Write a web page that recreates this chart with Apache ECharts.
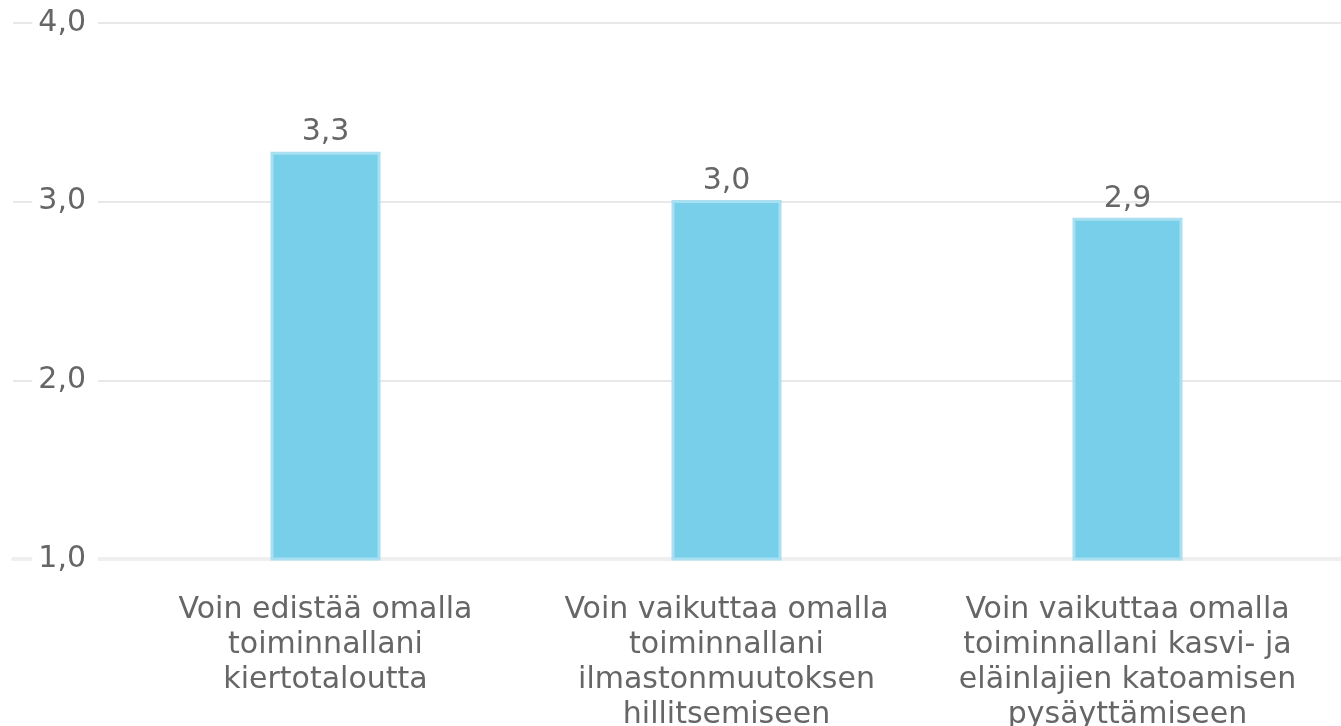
<!DOCTYPE html>
<html>
<head>
<meta charset="utf-8">
<script src="https://cdn.jsdelivr.net/npm/echarts@6/dist/echarts.min.js"></script>
<style>
    html, body { margin: 0; padding: 0; background: #fff; }
    #main { width: 1341px; height: 726px; }
</style>
</head>
<body>
<div id="main"></div>
<script>
var categories = [
    'Voin edistää omalla\ntoiminnallani\nkiertotaloutta',
    'Voin vaikuttaa omalla\ntoiminnallani\nilmastonmuutoksen\nhillitsemiseen',
    'Voin vaikuttaa omalla\ntoiminnallani kasvi- ja\neläinlajien katoamisen\npysäyttämiseen'
];
var values = [3.28, 3.01, 2.91];
var yMin = 1;
var yMax = 4;
var yStep = 1;

var fmt = function (v) {
    return v.toFixed(1).replace('.', ',');
};

var font = 'DejaVu Sans';

var option = {
    animation: false,
    grid: [
        // full width grid, only for the grid lines
        { left: 13, right: 0, top: 23, bottom: 167, outerBoundsMode: 'none' },
        // bars
        { left: 125, right: 13, top: 23, bottom: 167, outerBoundsMode: 'none' }
    ],
    xAxis: [
        {
            gridIndex: 0,
            type: 'value',
            min: 0, max: 1,
            axisLine: { show: true, onZero: false, lineStyle: { color: '#efefef', width: 4 } },
            axisTick: { show: false },
            axisLabel: { show: false },
            splitLine: { show: false }
        },
        {
            gridIndex: 1,
            type: 'category',
            data: categories,
            axisLine: { show: false },
            axisTick: { show: false },
            axisLabel: {
                interval: 0,
                margin: 34,
                color: '#666',
                fontFamily: font,
                fontSize: 30,
                lineHeight: 35,
                align: 'center'
            }
        }
    ],
    yAxis: [
        {
            gridIndex: 0,
            type: 'value',
            min: yMin, max: yMax, interval: yStep,
            axisLine: { show: false },
            axisTick: { show: false },
            axisLabel: { show: false },
            splitLine: { lineStyle: { color: '#e8e8e8', width: 2 } }
        },
        {
            gridIndex: 1,
            type: 'value',
            z: 10,
            min: yMin, max: yMax, interval: yStep,
            axisLine: { show: false },
            axisTick: { show: false },
            splitLine: { show: false },
            axisLabel: {
                margin: 27,
                color: '#666',
                fontFamily: font,
                fontSize: 30,
                backgroundColor: '#fff',
                padding: [3, 12, 3, 6],
                formatter: fmt
            }
        }
    ],
    series: [
        {
            type: 'bar',
            xAxisIndex: 1,
            yAxisIndex: 1,
            data: values,
            barWidth: 110,
            itemStyle: {
                color: '#78cfea',
                borderColor: '#a8e0f1',
                borderWidth: 3
            },
            label: {
                show: true,
                position: 'top',
                distance: 4,
                color: '#666',
                fontFamily: font,
                fontSize: 30,
                formatter: function (p) { return fmt(p.value); }
            }
        }
    ]
};

var myChart = echarts.init(document.getElementById('main'));
myChart.setOption(option, true);
</script>
</body>
</html>
